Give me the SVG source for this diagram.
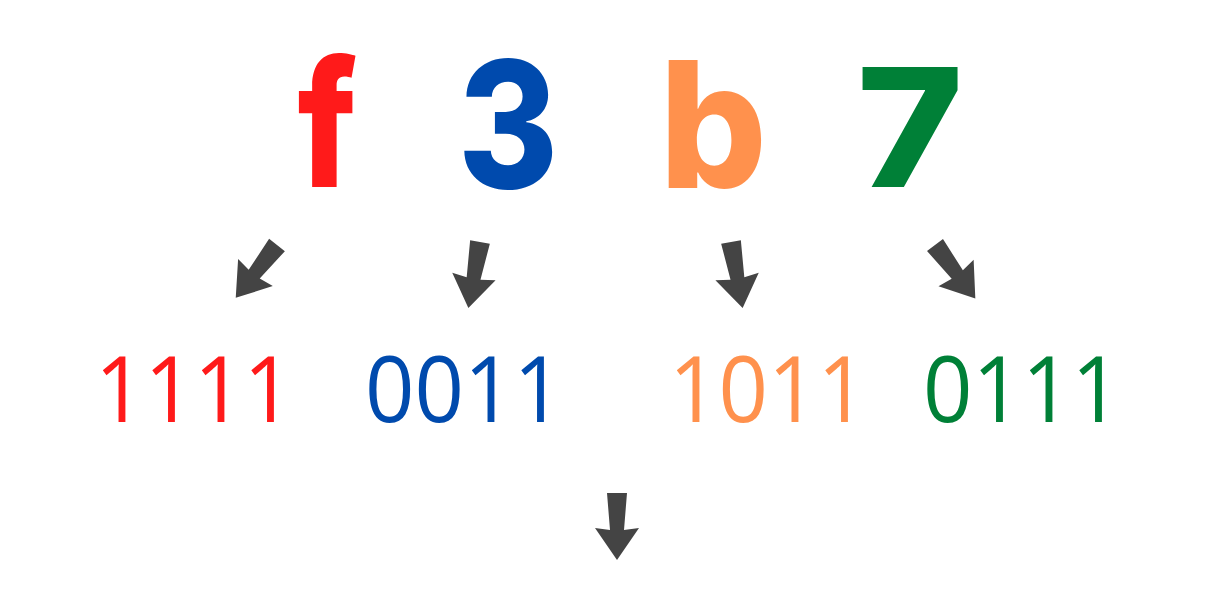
<svg xmlns="http://www.w3.org/2000/svg" width="1215" height="611" viewBox="0 0 1215 611">
<style>
.big{font-family:Inter,"Liberation Sans",sans-serif;font-weight:800;font-size:176px;text-anchor:middle}
.bin{font-family:"Open Sans","Liberation Sans",sans-serif;font-weight:400;font-size:91px;text-anchor:middle}
.red{fill:#ff1a1a}.blue{fill:#004aad}.orange{fill:#ff914d}.green{fill:#008037}
.arr{fill:#444444}
</style>
<defs>
<polygon id="ah" points="-10,0 10,0 7,37 22,35 0,67 -22,35 -7,37"/>
</defs>
<rect width="1215" height="611" fill="#ffffff"/>
<g id="hex-f" transform="translate(327,187) scale(0.82,1)"><text class="big red" x="0" y="0">f</text></g>
<g id="hex-3" transform="translate(508,188) scale(0.87,1)"><text class="big blue" x="0" y="0">3</text></g>
<g id="hex-b" transform="translate(713,188) scale(0.96,1)"><text class="big orange" x="0" y="0">b</text></g>
<g id="hex-7" transform="translate(910,187) scale(1.03,0.94)"><text class="big green" x="0" y="0">7</text></g>
<g id="bin-1111"><text class="bin red" x="194" y="422" textLength="198" lengthAdjust="spacingAndGlyphs">1111</text></g>
<g id="bin-0011"><text class="bin blue" x="464" y="422" textLength="198" lengthAdjust="spacingAndGlyphs">0011</text></g>
<g id="bin-1011"><text class="bin orange" x="768" y="422" textLength="198" lengthAdjust="spacingAndGlyphs">1011</text></g>
<g id="bin-0111"><text class="bin green" x="1022" y="422" textLength="198" lengthAdjust="spacingAndGlyphs">0111</text></g>
<g id="connectors" class="arr">
<use href="#ah" transform="translate(277,245) rotate(38)"/>
<use href="#ah" transform="translate(480,242) rotate(10)"/>
<use href="#ah" transform="translate(731,242) rotate(-10)"/>
<use href="#ah" transform="translate(935,245) rotate(-37)"/>
<use href="#ah" transform="translate(617,493) rotate(0)"/>
</g>
</svg>
